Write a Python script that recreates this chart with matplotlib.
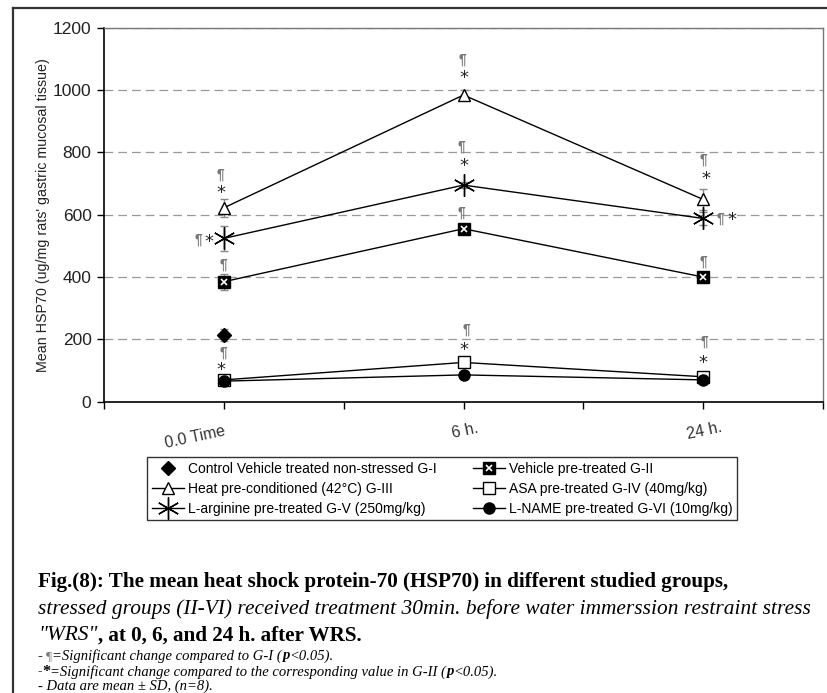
import matplotlib
matplotlib.use("Agg")
import matplotlib.pyplot as plt
from matplotlib.lines import Line2D
from matplotlib.legend_handler import HandlerTuple
import numpy as np

# ---------------- data ----------------
time_labels = ["0.0 Time", "6 h.", "24 h."]
g1_mean = [214]
g1_sd = [20]
g2_mean = [385, 555, 400]
g2_sd = [26, 10, 8]
g3_mean = [622, 984, 649]
g3_sd = [28, 15, 33]
g4_mean = [70, 126, 80]
g4_sd = [10, 8, 8]
g5_mean = [524, 695, 588]
g5_sd = [41, 10, 22]
g6_mean = [66, 86, 70]
g6_sd = [8, 6, 6]

names = ["Control Vehicle treated non-stressed G-I",
         "Heat pre-conditioned (42\u00b0C) G-III",
         "L-arginine pre-treated G-V (250mg/kg)",
         "Vehicle pre-treated G-II",
         "ASA pre-treated G-IV (40mg/kg)",
         "L-NAME pre-treated G-VI (10mg/kg)"]

# significance marks: (text, category position, value)
marks = [("\u00b6", 0.97, 730), ("*", 0.98, 669), ("\u00b6*", 0.83, 519),
         ("\u00b6", 1.0, 441), ("\u00b6", 1.0, 156), ("*", 0.98, 102),
         ("\u00b6", 2.99, 1099), ("*", 3.0, 1038), ("\u00b6", 2.98, 817),
         ("*", 3.0, 756), ("\u00b6", 2.98, 606), ("\u00b6", 3.02, 230),
         ("*", 3.0, 166),
         ("\u00b6", 5.0, 778), ("*", 5.02, 714), ("\u00b6*", 5.19, 589),
         ("\u00b6", 5.0, 451), ("\u00b6", 5.01, 192), ("*", 5.0, 124)]

# ---------------- figure ----------------
W, H = 827, 693
fig = plt.figure(figsize=(W / 100, H / 100), dpi=100)
sans = ['Liberation Sans', 'DejaVu Sans']
serif = ['Liberation Serif', 'DejaVu Serif']

ax = fig.add_axes([104 / W, 1 - 401.7 / H, (823 - 104) / W, (401.7 - 27.7) / H])
xpos = np.array([1, 3, 5])

ecol = '#888888'
ekw = dict(ecolor=ecol, elinewidth=1.0, capsize=3, capthick=1.0, zorder=3)
lc = 'black'

ax.errorbar(xpos, g3_mean, yerr=g3_sd, fmt='none', **ekw)
ax.errorbar(xpos, g5_mean, yerr=g5_sd, fmt='none', **ekw)
ax.errorbar(xpos, g2_mean, yerr=g2_sd, fmt='none', **ekw)
ax.errorbar(xpos[:1], g1_mean, yerr=g1_sd, fmt='none', **ekw)
ax.errorbar(xpos, g4_mean, yerr=g4_sd, fmt='none', **ekw)
ax.errorbar(xpos, g6_mean, yerr=g6_sd, fmt='none', **ekw)

l3, = ax.plot(xpos, g3_mean, color=lc, lw=1, marker='^', ms=8, mfc='white', mec='black', mew=1, zorder=4)
l5, = ax.plot(xpos, g5_mean, color=lc, lw=1, marker=(6, 2, 0), ms=16, mec='black', mew=1, zorder=4)
l2a, = ax.plot(xpos, g2_mean, color=lc, lw=1, marker='s', ms=8, mfc='black', mec='black', zorder=4)
l2b, = ax.plot(xpos, g2_mean, ls='none', marker='x', ms=5, mec='white', mew=1.2, zorder=5)
l1, = ax.plot(xpos[:1], g1_mean, ls='none', marker='D', ms=7, mfc='black', mec='black', zorder=4)
l4, = ax.plot(xpos, g4_mean, color=lc, lw=1, marker='s', ms=8, mfc='white', mec='black', mew=1, zorder=4)
l6, = ax.plot(xpos, g6_mean, color=lc, lw=1, marker='o', ms=8, mfc='black', mec='black', zorder=5)

for txt, xx, yy in marks:
    if txt == "\u00b6":
        ax.text(xx, yy, txt, ha='center', va='center', fontsize=10, color='#777777',
                family=sans, fontweight='bold', zorder=6)
    elif txt == "*":
        ax.text(xx, yy, txt, ha='center', va='center', fontsize=13, color='#222222',
                family=['DejaVu Sans'], zorder=6)
    else:
        ax.text(xx - 0.045, yy, "\u00b6", ha='center', va='center', fontsize=10, color='#777777',
                family=sans, fontweight='bold', zorder=6)
        ax.text(xx + 0.05, yy - 5, "*", ha='center', va='center', fontsize=13, color='#222222',
                family=['DejaVu Sans'], zorder=6)

ax.set_xlim(0, 6)
ax.set_ylim(0, 1200)
ax.set_yticks(np.arange(0, 1201, 200))
ax.set_yticklabels([str(v) for v in range(0, 1201, 200)], family=sans, fontsize=12.5, color='#222222')
ax.set_xticks(np.arange(0, 7))
xl = ['', time_labels[0], '', time_labels[1], '', time_labels[2], '']
ax.set_xticklabels(xl, family=sans, fontsize=11.5, color='#333333', rotation=12)
for i, lab in enumerate(ax.get_xticklabels()):
    lab.set_rotation_mode('anchor')
    lab.set_ha('right' if i == 1 else 'center')
    lab.set_va('top')
ax.tick_params(axis='x', direction='out', length=5, width=1, pad=11)
ax.tick_params(axis='y', direction='out', length=5, width=1, pad=4)
ax.yaxis.grid(True, ls=(0, (7, 4)), color='#999999', lw=0.9)
ax.set_axisbelow(True)
for s in ['top', 'right']:
    ax.spines[s].set_color('#777777')
    ax.spines[s].set_linewidth(1)
for s in ['left', 'bottom']:
    ax.spines[s].set_color('black')
    ax.spines[s].set_linewidth(1.2)
ax.set_ylabel("Mean HSP70 (ug/mg rats' gastric mucosal tissue)", family=sans, fontsize=10.3,
              color='#222222', labelpad=2)

# legend
handles = [l1, l3, l5, (l2a, l2b), l4, l6]
leg = fig.legend(handles, names, ncol=2, loc='upper left',
                 bbox_to_anchor=(147 / W, 1 - 457 / H), borderaxespad=0, frameon=True, fancybox=False,
                 edgecolor='black', prop={'family': sans, 'size': 10}, handlelength=2.3,
                 handletextpad=0.3, columnspacing=2.6, labelspacing=0.42, borderpad=0.35,
                 handler_map={tuple: HandlerTuple(ndivide=1)})
leg.get_frame().set_linewidth(1)

# outer frame
fig.add_artist(Line2D([13 / W, 1], [1 - 8 / H, 1 - 8 / H], color='#333333', lw=1.6))
fig.add_artist(Line2D([13 / W, 13 / W], [0, 1 - 8 / H], color='#333333', lw=1.6))

# caption
fig.canvas.draw()
renderer = fig.canvas.get_renderer()


def row(x_px, y_px, pieces):
    x = x_px
    for s, kw in pieces:
        t = fig.text(x / W, 1 - y_px / H, s, va='center', ha='left', **kw)
        bb = t.get_window_extent(renderer)
        x += bb.width


B = dict(family=serif, fontsize=15.2, fontweight='bold', color='black')
I = dict(family=serif, fontsize=15.4, fontstyle='italic', color='black')
row(38, 582, [("Fig.(8): The mean heat shock protein-70 (HSP70) in different studied groups,", B)])
row(38, 609, [("stressed groups (II-VI) received treatment 30min. before water immerssion restraint stress", I)])
row(38, 636, [('"WRS"', I), (", at 0, 6, and 24 h. after WRS.", B)])
nfs = 10.5
n = dict(family=serif, fontsize=nfs, fontstyle='italic', color='black')
nb = dict(family=serif, fontsize=nfs, fontstyle='italic', fontweight='bold', color='black')
row(38, 656, [("- ", dict(family=serif, fontsize=nfs, fontweight='bold')),
              ("\u00b6", dict(family=serif, fontsize=nfs - 1, color='#777777')),
              ("=Significant change compared to G-I (", n), ("p", nb), ("<0.05).", n)])
row(38, 672, [("-", dict(family=serif, fontsize=nfs - 1, color='#555555')),
              ("*", dict(family=serif, fontsize=nfs + 1, fontweight='bold')),
              ("=Significant change compared to the corresponding value in G-II (", n), ("p", nb), ("<0.05).", n)])
row(38, 686.5, [("- Data are mean \u00b1 SD, (n=8).", n)])

fig.savefig("out.png", dpi=100)
